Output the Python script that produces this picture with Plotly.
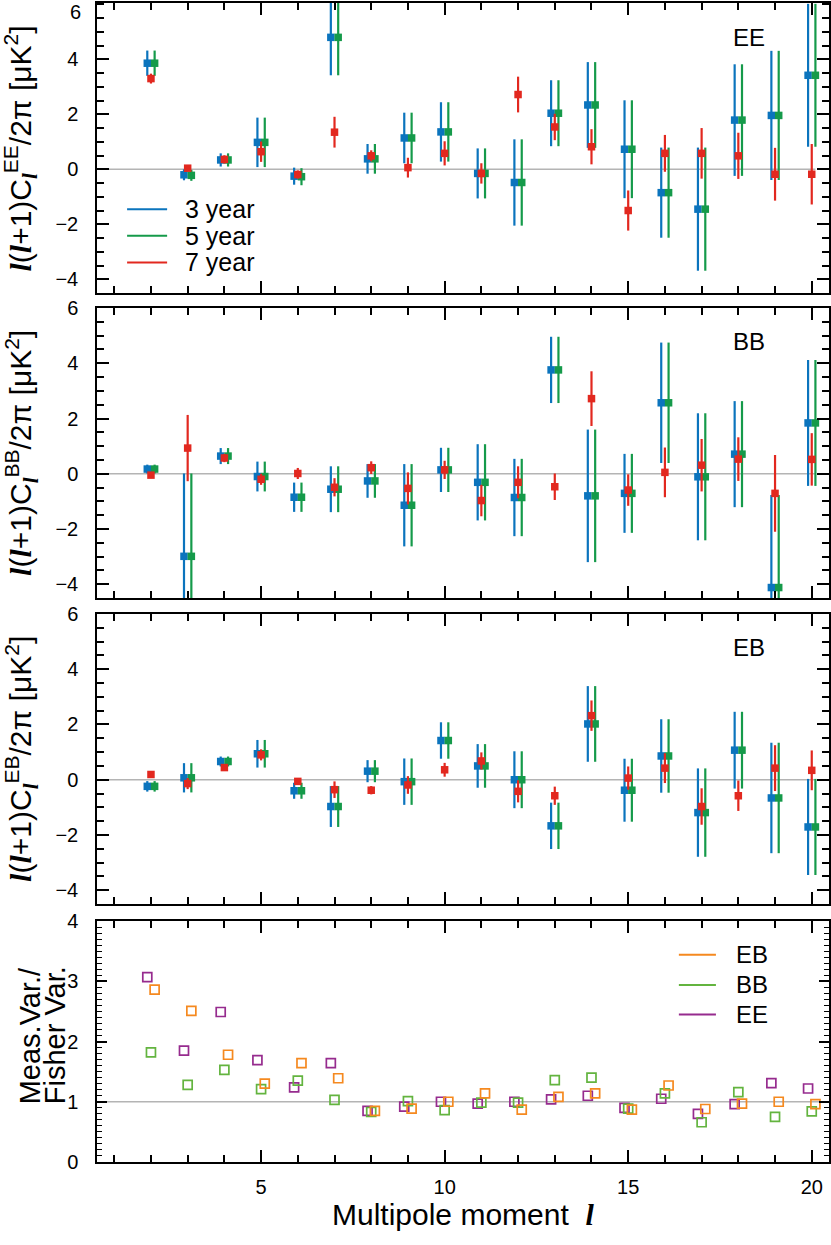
import numpy as np
import plotly.graph_objects as go
from plotly.subplots import make_subplots

# multipole moments
ells = np.arange(2, 21)

# EE spectra (value, 1-sigma error) for 3, 5 and 7 year maps
ee3 = [3.86, -0.20, 0.34, 0.98, -0.25, 4.80, 0.38, 1.14, 1.36, -0.15, -0.48, 2.04, 2.34, 0.73, -0.85, -1.45, 1.79, 1.96, 3.42]
ee3_err = [0.46, 0.20, 0.24, 0.90, 0.31, 1.38, 0.54, 0.92, 1.08, 0.91, 1.57, 1.20, 1.56, 1.78, 1.64, 2.24, 2.03, 2.35, 2.60]
ee5 = [3.86, -0.22, 0.34, 0.98, -0.27, 4.80, 0.38, 1.14, 1.36, -0.15, -0.48, 2.04, 2.34, 0.73, -0.85, -1.45, 1.79, 1.96, 3.42]
ee5_err = [0.46, 0.20, 0.24, 0.90, 0.31, 1.38, 0.54, 0.92, 1.08, 0.91, 1.57, 1.20, 1.56, 1.78, 1.64, 2.24, 2.03, 2.35, 2.60]
ee7 = [3.30, 0.04, 0.36, 0.64, -0.19, 1.35, 0.49, 0.06, 0.58, -0.15, 2.72, 1.54, 0.82, -1.50, 0.58, 0.58, 0.49, -0.18, -0.18]
ee7_err = [0.18, 0.10, 0.15, 0.37, 0.15, 0.56, 0.20, 0.36, 0.44, 0.37, 0.65, 0.48, 0.64, 0.73, 0.67, 0.92, 0.84, 0.96, 1.10]

# BB spectra
bb3 = [0.17, -2.99, 0.64, -0.10, -0.85, -0.56, -0.26, -1.14, 0.14, -0.31, -0.86, 3.76, -0.80, -0.71, 2.57, -0.11, 0.71, -4.12, 1.84]
bb3_err = [0.16, 3.00, 0.29, 0.54, 0.53, 0.83, 0.61, 1.49, 0.80, 1.38, 1.40, 1.20, 2.40, 1.43, 2.18, 2.30, 1.92, 3.35, 2.28]
bb5 = [0.17, -2.99, 0.64, -0.10, -0.85, -0.56, -0.26, -1.14, 0.14, -0.31, -0.86, 3.76, -0.80, -0.71, 2.57, -0.11, 0.71, -4.12, 1.84]
bb5_err = [0.16, 3.00, 0.29, 0.54, 0.53, 0.83, 0.61, 1.49, 0.80, 1.38, 1.40, 1.20, 2.40, 1.43, 2.18, 2.30, 1.92, 3.35, 2.28]
bb7 = [-0.05, 0.93, 0.57, -0.20, 0.01, -0.49, 0.22, -0.53, 0.14, -0.97, -0.31, -0.47, 2.72, -0.59, 0.05, 0.31, 0.53, -0.71, 0.52]
bb7_err = [0.10, 1.20, 0.15, 0.20, 0.20, 0.33, 0.23, 0.58, 0.33, 0.57, 0.58, 0.48, 0.99, 0.57, 0.90, 0.95, 0.79, 1.39, 0.95]

# EB spectra
eb3 = [-0.24, 0.07, 0.66, 0.94, -0.40, -0.97, 0.31, -0.07, 1.42, 0.50, 0.00, -1.67, 2.02, -0.38, 0.86, -1.19, 1.07, -0.66, -1.71]
eb3_err = [0.19, 0.53, 0.18, 0.50, 0.29, 0.74, 0.40, 0.84, 0.66, 0.79, 1.03, 0.84, 1.37, 1.14, 1.33, 1.60, 1.39, 2.00, 1.74]
eb5 = [-0.24, 0.07, 0.66, 0.94, -0.40, -0.97, 0.31, -0.07, 1.42, 0.50, 0.00, -1.67, 2.02, -0.38, 0.86, -1.19, 1.07, -0.66, -1.71]
eb5_err = [0.19, 0.53, 0.18, 0.50, 0.29, 0.74, 0.40, 0.84, 0.66, 0.79, 1.03, 0.84, 1.37, 1.14, 1.33, 1.60, 1.39, 2.00, 1.74]
eb7 = [0.19, -0.14, 0.44, 0.90, -0.06, -0.36, -0.38, -0.19, 0.36, 0.68, -0.42, -0.58, 2.32, 0.06, 0.42, -0.97, -0.58, 0.42, 0.34]
eb7_err = [0.10, 0.20, 0.12, 0.20, 0.12, 0.30, 0.15, 0.32, 0.25, 0.31, 0.40, 0.33, 0.55, 0.42, 0.54, 0.66, 0.55, 0.83, 0.72]

# measured variance / Fisher variance
ratio_ee = [3.07, 1.85, 2.49, 1.69, 1.24, 1.64, 0.85, 0.92, 1.00, 0.97, 1.00, 1.04, 1.10, 0.90, 1.05, 0.80, 0.96, 1.31, 1.22]
ratio_bb = [1.82, 1.28, 1.53, 1.21, 1.35, 1.03, 0.83, 1.01, 0.86, 0.985, 0.985, 1.36, 1.40, 0.885, 1.14, 0.66, 1.16, 0.75, 0.84]
ratio_eb = [2.86, 2.51, 1.78, 1.30, 1.64, 1.39, 0.85, 0.885, 1.00, 1.14, 0.87, 1.08, 1.14, 0.87, 1.27, 0.88, 0.97, 1.00, 0.96]

BLUE, GREEN, RED = '#0b74bd', '#159a4a', '#e2281f'
ORANGE, LGREEN, PURPLE = '#f5891f', '#63b43f', '#962b8e'
FONT = 'Liberation Sans, Arial, sans-serif'
L = '<span style="font-family:Liberation Serif"><b><i>l</i></b></span>'

fig = make_subplots(rows=4, cols=1, shared_xaxes=True)


def ax(r):
    return '' if r == 1 else str(r)


def spectrum(row, vals, errs, color, dx):
    fig.add_trace(go.Scatter(
        x=ells + dx, y=vals, mode='markers',
        marker=dict(symbol='square', size=7.5, color=color, line=dict(width=0)),
        error_y=dict(type='data', array=errs, color=color, thickness=2.2, width=0),
        showlegend=False, hoverinfo='skip'
    ), row=row, col=1)


def legend_box(row, items, x0, x1, xt, ys, size):
    # hand-drawn legend: short coloured line + label
    for (name, color), y in zip(items, ys):
        fig.add_shape(type='line', xref=f'x{ax(row)}', yref=f'y{ax(row)}',
                      x0=x0, x1=x1, y0=y, y1=y, line=dict(color=color, width=2))
        fig.add_annotation(text=name, xref=f'x{ax(row)}', yref=f'y{ax(row)}',
                           x=xt, y=y, xanchor='left', yanchor='middle', showarrow=False,
                           font=dict(family=FONT, size=size, color='black'))


panels = [
    ('EE', (ee3, ee3_err), (ee5, ee5_err), (ee7, ee7_err)),
    ('BB', (bb3, bb3_err), (bb5, bb5_err), (bb7, bb7_err)),
    ('EB', (eb3, eb3_err), (eb5, eb5_err), (eb7, eb7_err)),
]
for i, (name, s3, s5, s7) in enumerate(panels, start=1):
    spectrum(i, *s3, BLUE, -0.1)
    spectrum(i, *s5, GREEN, 0.1)
    spectrum(i, *s7, RED, 0.0)

for vals, color, dx in [(ratio_ee, PURPLE, -0.1), (ratio_bb, LGREEN, 0.0), (ratio_eb, ORANGE, 0.1)]:
    fig.add_trace(go.Scatter(
        x=ells + dx, y=vals, mode='markers',
        marker=dict(symbol='square-open', size=9, color=color, line=dict(width=1.7, color=color)),
        showlegend=False, hoverinfo='skip'
    ), row=4, col=1)

legend_box(1, [('3 year', BLUE), ('5 year', GREEN), ('7 year', RED)],
           1.35, 2.44, 2.88, [-1.45, -2.42, -3.39], 25)
legend_box(4, [('EB', ORANGE), ('BB', LGREEN), ('EE', PURPLE)],
           16.38, 17.39, 17.88, [3.44, 2.94, 2.45], 24)

domains = [[0.7498, 1.0], [0.4866, 0.7368], [0.2226, 0.4728], [0.0, 0.2079]]
axis_common = dict(
    ticks='inside', tickcolor='black', tickwidth=1.5, showline=True, linecolor='black',
    linewidth=1.5, mirror='ticks', showgrid=False, zeroline=False, automargin=False,
    tickfont=dict(family=FONT, size=20, color='black')
)
for r in range(1, 5):
    fig.update_xaxes(
        range=[0.53, 20.47], tickmode='linear', tick0=0, dtick=5, ticklen=12,
        minor=dict(ticks='inside', tick0=0, dtick=1, ticklen=7, tickwidth=1.5, tickcolor='black', showgrid=False),
        showticklabels=(r == 4), ticklabelstandoff=6, **axis_common, row=r, col=1
    )
    if r < 4:
        # the top edge of the first panel sits at the figure edge, its "6" is placed by hand below
        ticks = dict(tickmode='array', tickvals=[-4, -2, 0, 2, 4]) if r == 1 else \
            dict(tickmode='linear', tick0=0, dtick=2)
        fig.update_yaxes(
            domain=domains[r - 1], range=[-4.5, 6.05 if r == 1 else 6.0], ticklen=12,
            minor=dict(ticks='inside', tick0=0, dtick=0.5, ticklen=7, tickwidth=1.5, tickcolor='black', showgrid=False),
            ticklabelstandoff=13, **ticks, **axis_common, row=r, col=1
        )
        fig.add_shape(type='line', xref=f'x{ax(r)}', yref=f'y{ax(r)}',
                      x0=0.6, x1=20.1, y0=0, y1=0, line=dict(color='#b4b4b4', width=1.5), layer='below')
    else:
        fig.update_yaxes(
            domain=domains[3], range=[0, 4], tickmode='linear', tick0=0, dtick=1, ticklen=10,
            minor=dict(ticks='inside', tick0=0, dtick=0.1, ticklen=5, tickwidth=1, tickcolor='black', showgrid=False),
            ticklabelstandoff=13, **axis_common, row=r, col=1
        )
        fig.add_shape(type='line', xref='x4', yref='y4', x0=0.6, x1=20.2, y0=1, y1=1,
                      line=dict(color='#b4b4b4', width=1.5), layer='below')

fig.add_annotation(text='6', xref='paper', yref='paper', x=-0.0195, y=0.9925, xanchor='right',
                   yanchor='middle', showarrow=False, font=dict(family=FONT, size=20, color='black'))

# panel labels and y titles
for r, name in enumerate(['EE', 'BB', 'EB'], start=1):
    fig.add_annotation(text=name, xref=f'x{ax(r)}', yref=f'y{ax(r)}', x=18.3, y=4.8,
                       showarrow=False, font=dict(family=FONT, size=24, color='black'))
    fig.add_annotation(
        text=f'{L}({L}+1)C<sub>{L}</sub><sup>{name}</sup>/2π [μK<sup>2</sup>]',
        xref='paper', yref=f'y{ax(r)}', x=-0.104, y=0.75, textangle=-90, showarrow=False,
        xanchor='center', yanchor='middle', font=dict(family=FONT, size=30, color='black'))

fig.add_annotation(text='Meas.Var./', xref='paper', yref='y4', x=-0.115, y=2.1,
                   textangle=-90, showarrow=False, font=dict(family=FONT, size=29, color='black'))
fig.add_annotation(text='Fisher Var.', xref='paper', yref='y4', x=-0.081, y=2.1,
                   textangle=-90, showarrow=False, font=dict(family=FONT, size=29, color='black'))
fig.add_annotation(text=f'Multipole moment  {L}', xref='paper', yref='paper', x=0.5, y=-0.045,
                   showarrow=False, yanchor='middle', font=dict(family=FONT, size=30, color='black'))

fig.update_layout(
    width=831, height=1245,
    margin=dict(l=97, r=2, t=3, b=83),
    plot_bgcolor='white', paper_bgcolor='white',
    font=dict(family=FONT, color='black'),
    showlegend=False,
)

# the page body has an 8px default margin; drop it so the figure fills the window
fig.write_html("out.html", config={'displayModeBar': False},
               post_script="document.body.style.margin='0px';")
